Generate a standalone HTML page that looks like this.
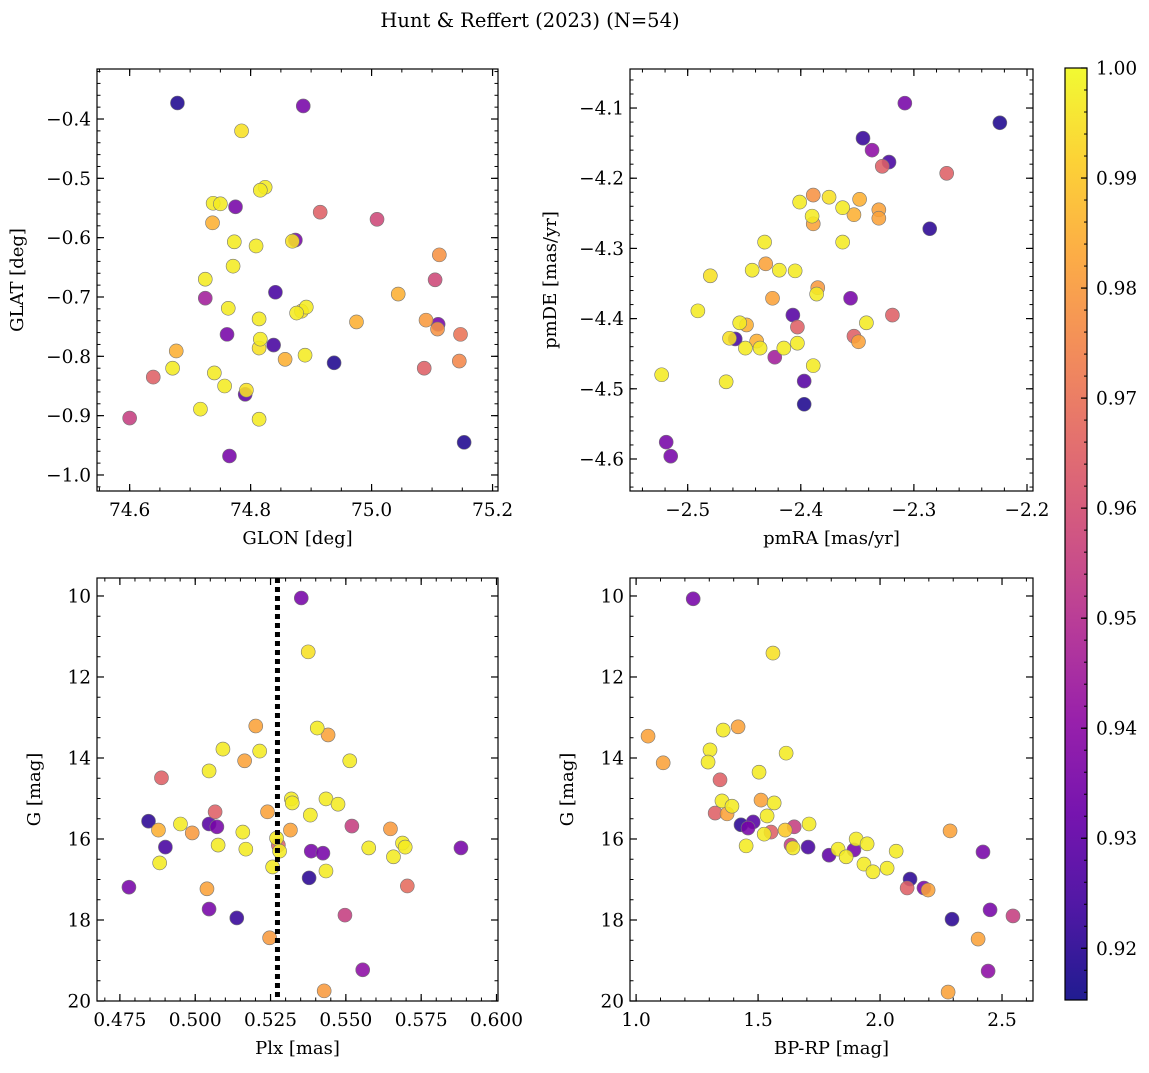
<!DOCTYPE html>
<html><head><meta charset="utf-8">
<style>
body{margin:0;background:#fff;}
svg text{font-family:"DejaVu Serif","Liberation Serif",serif;fill:#000;}
</style></head>
<body>
<svg id="fig" width="1149" height="1068" xmlns="http://www.w3.org/2000/svg">
<text x="530" y="27" font-size="19.5" text-anchor="middle">Hunt &amp; Reffert (2023) (N=54)</text>
</svg>
<script>
// ---- Data ----
const p1_glon=[74.679,74.887,74.785,74.824,74.816,74.738,74.750,74.775,74.915,75.009,74.737,74.874,74.869,74.773,74.809,75.112,74.771,75.044,74.841,74.725,75.105,74.725,74.892,74.763,74.876,74.884,74.814,74.975,75.090,75.110,75.109,75.147,74.761,74.816,74.814,74.838,74.890,74.857,74.938,75.145,75.087,74.671,74.677,74.740,74.639,74.757,74.791,74.793,74.717,74.814,74.600,75.153,74.765];
const p1_glat=[-0.373,-0.378,-0.420,-0.515,-0.520,-0.542,-0.543,-0.548,-0.557,-0.569,-0.575,-0.604,-0.606,-0.607,-0.614,-0.629,-0.648,-0.695,-0.692,-0.670,-0.671,-0.702,-0.717,-0.719,-0.727,-0.724,-0.737,-0.742,-0.739,-0.746,-0.754,-0.763,-0.763,-0.771,-0.786,-0.781,-0.798,-0.805,-0.811,-0.808,-0.820,-0.820,-0.791,-0.828,-0.835,-0.850,-0.864,-0.857,-0.889,-0.906,-0.904,-0.945,-0.968];
const p1_prob=[0.918,0.935,0.995,0.997,0.997,0.997,0.997,0.935,0.965,0.958,0.985,0.935,0.995,0.997,0.997,0.978,0.997,0.985,0.925,0.997,0.958,0.945,0.997,0.997,0.997,0.995,0.997,0.985,0.980,0.935,0.978,0.970,0.935,0.997,0.995,0.925,0.997,0.985,0.918,0.975,0.965,0.997,0.985,0.997,0.965,0.997,0.93,0.995,0.997,0.997,0.955,0.918,0.935];

const p2_pmra=[-2.224,-2.308,-2.345,-2.337,-2.322,-2.328,-2.271,-2.375,-2.389,-2.348,-2.401,-2.363,-2.331,-2.353,-2.390,-2.331,-2.389,-2.286,-2.432,-2.363,-2.431,-2.419,-2.443,-2.405,-2.480,-2.385,-2.386,-2.425,-2.356,-2.491,-2.319,-2.407,-2.342,-2.454,-2.448,-2.403,-2.353,-2.349,-2.458,-2.463,-2.439,-2.403,-2.449,-2.436,-2.415,-2.423,-2.389,-2.523,-2.466,-2.397,-2.397,-2.519,-2.515];
const p2_pmde=[-4.121,-4.093,-4.143,-4.160,-4.177,-4.183,-4.193,-4.227,-4.224,-4.230,-4.234,-4.242,-4.245,-4.252,-4.254,-4.257,-4.265,-4.272,-4.291,-4.291,-4.322,-4.331,-4.331,-4.332,-4.339,-4.356,-4.365,-4.371,-4.371,-4.389,-4.395,-4.395,-4.406,-4.406,-4.409,-4.412,-4.425,-4.433,-4.429,-4.428,-4.432,-4.435,-4.442,-4.442,-4.442,-4.455,-4.467,-4.480,-4.490,-4.489,-4.522,-4.576,-4.596];
const p2_prob=[0.918,0.935,0.922,0.94,0.925,0.965,0.965,0.995,0.978,0.985,0.997,0.997,0.982,0.985,0.997,0.982,0.982,0.92,0.997,0.997,0.982,0.997,0.997,0.997,0.995,0.98,0.997,0.982,0.935,0.997,0.965,0.928,0.997,0.997,0.985,0.965,0.965,0.982,0.925,0.995,0.985,0.997,0.997,0.997,0.997,0.945,0.997,0.997,0.997,0.928,0.918,0.935,0.935];

const p3_plx=[0.5352,0.5375,0.5201,0.5405,0.5441,0.5092,0.5214,0.5164,0.5513,0.5046,0.4888,0.5434,0.5319,0.5322,0.5474,0.5066,0.5240,0.5382,0.4845,0.4951,0.5046,0.5072,0.5520,0.4990,0.5158,0.5316,0.5648,0.4878,0.5270,0.5688,0.5697,0.5076,0.4901,0.5276,0.5168,0.5280,0.5576,0.5385,0.5424,0.5882,0.5658,0.4882,0.5257,0.5434,0.5378,0.4780,0.5039,0.5704,0.5046,0.5497,0.5138,0.5247,0.5556,0.5428];
const p3_g=[10.05,11.38,13.21,13.26,13.43,13.78,13.83,14.07,14.07,14.32,14.49,15.01,15.01,15.11,15.14,15.33,15.33,15.41,15.56,15.63,15.63,15.70,15.68,15.85,15.83,15.78,15.75,15.78,15.98,16.10,16.20,16.15,16.20,16.15,16.25,16.30,16.22,16.30,16.35,16.22,16.44,16.59,16.69,16.79,16.96,17.19,17.23,17.16,17.73,17.88,17.95,18.44,19.23,19.75];
const p3_prob=[0.935,0.995,0.982,0.997,0.982,0.997,0.997,0.982,0.997,0.997,0.965,0.997,0.997,0.997,0.997,0.965,0.982,0.997,0.92,0.997,0.928,0.935,0.955,0.98,0.997,0.982,0.98,0.985,0.997,0.997,0.997,0.997,0.925,0.965,0.997,0.997,0.997,0.935,0.935,0.935,0.997,0.997,0.997,0.997,0.92,0.935,0.982,0.968,0.935,0.955,0.922,0.98,0.94,0.98];
const plxCut=0.5273;

const p4_bprp=[1.234,1.561,1.049,1.111,1.357,1.418,1.303,1.295,1.615,1.504,1.344,1.352,1.393,1.512,1.566,1.324,1.373,1.537,1.430,1.480,1.459,1.553,1.525,1.611,1.648,1.709,1.451,1.635,1.643,1.705,1.791,2.287,2.422,1.828,1.861,1.893,1.902,1.947,1.934,1.971,2.029,2.066,2.123,2.111,2.180,2.197,2.295,2.451,2.545,2.402,2.443,2.279];
const p4_g=[10.07,11.41,13.46,14.12,13.31,13.23,13.80,14.10,13.88,14.35,14.54,15.06,15.19,15.04,15.11,15.36,15.38,15.43,15.65,15.58,15.73,15.83,15.88,15.78,15.70,15.63,16.17,16.15,16.22,16.20,16.40,15.80,16.32,16.25,16.44,16.27,16.00,16.12,16.62,16.81,16.72,16.30,16.99,17.21,17.21,17.26,17.98,17.75,17.90,18.47,19.26,19.78];
const p4_prob=[0.935,0.995,0.982,0.982,0.997,0.982,0.997,0.997,0.997,0.997,0.965,0.997,0.997,0.982,0.997,0.965,0.982,0.997,0.92,0.928,0.935,0.965,0.997,0.99,0.955,0.997,0.997,0.955,0.997,0.925,0.93,0.982,0.935,0.997,0.997,0.935,0.997,0.997,0.997,0.997,0.997,0.997,0.92,0.965,0.935,0.982,0.92,0.935,0.955,0.982,0.94,0.982];

const cbTicks=[0.92,0.93,0.94,0.95,0.96,0.97,0.98,0.99,1.00];
const cMin=0.9153,cMax=1.0;

// ---- helpers ----
const NS="http://www.w3.org/2000/svg";
const svg=document.getElementById('fig');
function mk(tag,attrs,parent){const e=document.createElementNS(NS,tag);for(const k in attrs)e.setAttribute(k,attrs[k]);(parent||svg).appendChild(e);return e;}
const stops=[[13,8,135],[65,4,157],[106,0,168],[143,13,164],[177,42,144],[204,71,120],[225,100,98],[242,132,75],[252,166,54],[252,206,37],[240,249,33]];
function plasma(t){t=Math.max(0,Math.min(1,t));const f=t*10,i=Math.min(9,Math.floor(f)),u=f-i;const a=stops[i],b=stops[i+1];
 return `rgb(${Math.round(a[0]+(b[0]-a[0])*u)},${Math.round(a[1]+(b[1]-a[1])*u)},${Math.round(a[2]+(b[2]-a[2])*u)})`;}
function colorOf(p){return plasma((p-cMin)/(cMax-cMin));}
const TF=18.5, LF=18;

function axes(o){
 const g=mk('g',{});
 
 
 const sx=v=>o.x0+(v-o.xmin)/(o.xmax-o.xmin)*(o.x1-o.x0);
 const sy=o.yinv? v=>o.y0+(v-o.ymin)/(o.ymax-o.ymin)*(o.y1-o.y0) : v=>o.y1-(v-o.ymin)/(o.ymax-o.ymin)*(o.y1-o.y0);
 const tk=(a,b,s)=>{const r=[];for(let k=Math.ceil(a/s-1e-6);k*s<=b+1e-9;k++)r.push(+(k*s).toFixed(6));return r;};
 tk(o.xmin,o.xmax,o.xminor).forEach(v=>{const x=sx(v);mk('line',{x1:x,x2:x,y1:o.y1,y2:o.y1-3.5,stroke:'#000','stroke-width':1},g);mk('line',{x1:x,x2:x,y1:o.y0,y2:o.y0+3.5,stroke:'#000','stroke-width':1},g);});
 const ylo=Math.min(o.ymin,o.ymax),yhi=Math.max(o.ymin,o.ymax);
 tk(ylo,yhi,o.yminor).forEach(v=>{const y=sy(v);mk('line',{x1:o.x0,x2:o.x0+3.5,y1:y,y2:y,stroke:'#000','stroke-width':1},g);mk('line',{x1:o.x1,x2:o.x1-3.5,y1:y,y2:y,stroke:'#000','stroke-width':1},g);});
 tk(o.xmin,o.xmax,o.xmajor).forEach(v=>{const x=sx(v);mk('line',{x1:x,x2:x,y1:o.y1,y2:o.y1-7,stroke:'#000','stroke-width':1.2},g);mk('line',{x1:x,x2:x,y1:o.y0,y2:o.y0+7,stroke:'#000','stroke-width':1.2},g);
  const t=mk('text',{x:x,y:o.y1+25,'font-size':TF,'text-anchor':'middle'},g);t.textContent=o.xfmt(v);});
 tk(ylo,yhi,o.ymajor).forEach(v=>{const y=sy(v);mk('line',{x1:o.x0,x2:o.x0+7,y1:y,y2:y,stroke:'#000','stroke-width':1.2},g);mk('line',{x1:o.x1,x2:o.x1-7,y1:y,y2:y,stroke:'#000','stroke-width':1.2},g);
  const t=mk('text',{x:o.x0-6,y:y+6.5,'font-size':TF,'text-anchor':'end'},g);t.textContent=o.yfmt(v);});
 const fr=mk('rect',{x:o.x0,y:o.y0,width:o.x1-o.x0,height:o.y1-o.y0,fill:'none',stroke:'#000','stroke-width':1.2},g);
 
 const xl=mk('text',{x:(o.x0+o.x1)/2,y:o.y1+53,'font-size':LF,'text-anchor':'middle'},g);xl.textContent=o.xlabel;
 
 const ycx=o.x0-o.ylabOff,ycy=(o.y0+o.y1)/2;
 const yl=mk('text',{x:ycx,y:ycy,'font-size':LF,'text-anchor':'middle',transform:`rotate(-90 ${ycx} ${ycy})`},g);yl.textContent=o.ylabel;
 
 return {g,sx,sy};
}
function scatter(ax,xs,ys,ps,name){
 const order=ps.map((p,i)=>i).sort((a,b)=>ps[a]-ps[b]);
 order.forEach(i=>{
  const c=mk('circle',{cx:ax.sx(xs[i]),cy:ax.sy(ys[i]),r:7,fill:colorOf(ps[i]),'fill-opacity':0.88,stroke:'#777','stroke-width':0.6},ax.g);
  
  
 });
}
const f1=v=>v.toFixed(1).replace('-','\u2212');
const f3=v=>v.toFixed(3);
const f0=v=>v.toFixed(0);

const a1=axes({name:'glon-glat-panel',x0:97,x1:498,y0:69,y1:491,xmin:74.546,xmax:75.209,ymin:-1.027,ymax:-0.3157,xmajor:0.2,xminor:0.05,ymajor:0.1,yminor:0.02,xfmt:f1,yfmt:f1,xlabel:'GLON [deg]',ylabel:'GLAT [deg]',ylabOff:74});
scatter(a1,p1_glon,p1_glat,p1_prob,'glon-glat');
const a2=axes({name:'pm-panel',x0:630,x1:1033,y0:69,y1:491,xmin:-2.551,xmax:-2.1947,ymin:-4.6456,ymax:-4.0444,xmajor:0.1,xminor:0.02,ymajor:0.1,yminor:0.02,xfmt:f1,yfmt:f1,xlabel:'pmRA [mas/yr]',ylabel:'pmDE [mas/yr]',ylabOff:74});
scatter(a2,p2_pmra,p2_pmde,p2_prob,'pm');
const a3=axes({name:'plx-g-panel',x0:97,x1:498,y0:578,y1:1001,xmin:0.4674,xmax:0.6005,ymin:9.556,ymax:20,yinv:true,xmajor:0.025,xminor:0.005,ymajor:2,yminor:0.5,xfmt:f3,yfmt:f0,xlabel:'Plx [mas]',ylabel:'G [mag]',ylabOff:57});
scatter(a3,p3_plx,p3_g,p3_prob,'plx-g');
const cut=mk('line',{x1:a3.sx(plxCut),x2:a3.sx(plxCut),y1:578,y2:1001,stroke:'#000','stroke-width':5,'stroke-dasharray':'5,4'},a3.g);


const a4=axes({name:'cmd-panel',x0:630,x1:1033,y0:578,y1:1001,xmin:0.975,xmax:2.627,ymin:9.556,ymax:20,yinv:true,xmajor:0.5,xminor:0.1,ymajor:2,yminor:0.5,xfmt:f1,yfmt:f0,xlabel:'BP-RP [mag]',ylabel:'G [mag]',ylabOff:57});
scatter(a4,p4_bprp,p4_g,p4_prob,'cmd');

// colorbar
const cb=mk('g',{});


const defs=mk('defs',{});
const lg=mk('linearGradient',{id:'pg',x1:0,y1:1,x2:0,y2:0},defs);
for(let i=0;i<=20;i++){mk('stop',{offset:i/20,'stop-color':plasma(i/20),'stop-opacity':0.92},lg);}
const cbx0=1065,cbx1=1087,cby0=68,cby1=1000;
mk('rect',{x:cbx0,y:cby0,width:cbx1-cbx0,height:cby1-cby0,fill:'url(#pg)',stroke:'#000','stroke-width':1.2},cb);
const cy=v=>cby1-(v-cMin)/(cMax-cMin)*(cby1-cby0);
for(let k=Math.ceil(cMin*500);k<=500;k++){const y=cy(k/500);mk('line',{x1:cbx1,x2:cbx1-3,y1:y,y2:y,stroke:'#000','stroke-width':1},cb);}
cbTicks.forEach(v=>{const y=cy(v);mk('line',{x1:cbx1,x2:cbx1-6,y1:y,y2:y,stroke:'#000','stroke-width':1.2},cb);
 const t=mk('text',{x:cbx1+9,y:y+6.5,'font-size':TF},cb);t.textContent=v.toFixed(2);
 });
</script>
</body></html>
